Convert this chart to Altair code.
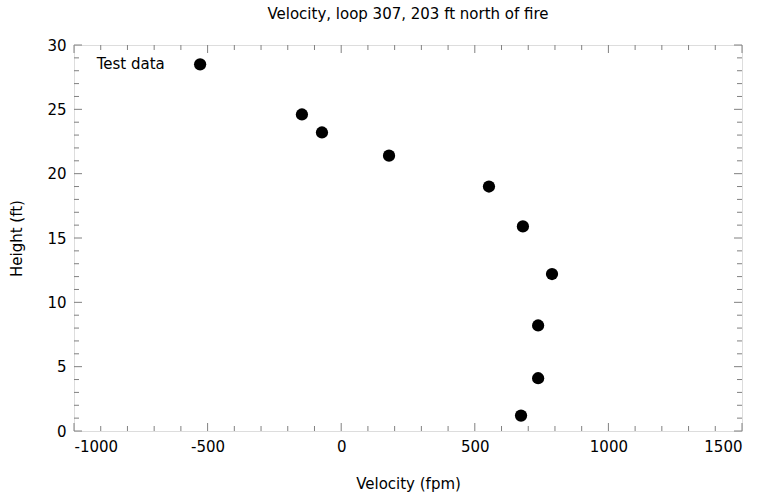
import altair as alt
import pandas as pd

velocity = [-528, -147, -72, 179, 553, 680, 789, 737, 737, 673]
height = [28.5, 24.6, 23.2, 21.4, 19.0, 15.9, 12.2, 8.2, 4.1, 1.2]

x_major = [-1000, -500, 0, 500, 1000, 1500]
x_minor = [v for v in range(-1000, 1501, 100) if v % 500 != 0]
y_major = [0, 5, 10, 15, 20, 25, 30]
y_minor = [v for v in range(0, 31) if v % 5 != 0]

W, H = 668, 386
FONT = "DejaVu Sans"
FS = 15
TICK = "#808080"

xs = alt.Scale(domain=[-1000, 1500], nice=False)
ys = alt.Scale(domain=[0, 30], nice=False)

df = pd.DataFrame({"v": velocity, "h": height})

points = alt.Chart(df).mark_circle(size=150, color="black", opacity=1).encode(
    x=alt.X("v:Q", scale=xs, title="Velocity (fpm)",
            axis=alt.Axis(values=x_major, ticks=False, domain=False, grid=False,
                          labelExpr="'' + datum.value",
                          labelFont=FONT, labelFontSize=FS, labelPadding=8,
                          titleFont=FONT, titleFontSize=FS, titleFontWeight="normal",
                          titlePadding=22, labelColor="black", titleColor="black")),
    y=alt.Y("h:Q", scale=ys, title="Height (ft)",
            axis=alt.Axis(values=y_major, ticks=False, domain=False, grid=False,
                          labelExpr="'' + datum.value",
                          labelFont=FONT, labelFontSize=FS, labelPadding=8,
                          titleFont=FONT, titleFontSize=FS, titleFontWeight="normal",
                          titlePadding=22, labelColor="black", titleColor="black")),
)

def xticks(vals, length):
    d = pd.DataFrame({"t": vals})
    bottom = alt.Chart(d).mark_rule(color=TICK, strokeWidth=1).encode(
        x=alt.X("t:Q", scale=xs), y=alt.value(H), y2=alt.value(H - length))
    top = alt.Chart(d).mark_rule(color=TICK, strokeWidth=1).encode(
        x=alt.X("t:Q", scale=xs), y=alt.value(0), y2=alt.value(length))
    return [bottom, top]

def yticks(vals, length):
    d = pd.DataFrame({"t": vals})
    left = alt.Chart(d).mark_rule(color=TICK, strokeWidth=1).encode(
        y=alt.Y("t:Q", scale=ys), x=alt.value(0), x2=alt.value(length))
    right = alt.Chart(d).mark_rule(color=TICK, strokeWidth=1).encode(
        y=alt.Y("t:Q", scale=ys), x=alt.value(W), x2=alt.value(W - length))
    return [left, right]

label = alt.Chart(pd.DataFrame({"v": [-915], "h": [28.5], "s": ["Test data"]})).mark_text(
    align="left", baseline="middle", font=FONT, fontSize=FS, color="black"
).encode(x=alt.X("v:Q", scale=xs), y=alt.Y("h:Q", scale=ys), text="s:N")

layers = xticks(x_major, 8) + xticks(x_minor, 5) + yticks(y_major, 8) + yticks(y_minor, 5)

chart = alt.layer(*layers, points, label).properties(
    width=W, height=H,
    title=alt.TitleParams("Velocity, loop 307, 203 ft north of fire", font=FONT,
                          fontSize=FS, fontWeight="normal", color="black", offset=16),
    autosize=alt.AutoSizeParams(type="none"),
    padding={"left": 74, "top": 45, "right": 26, "bottom": 66},
).configure_view(stroke=TICK, strokeWidth=1).configure(background="white")

chart.save("out.html", embed_options={"renderer": "svg", "actions": False})
